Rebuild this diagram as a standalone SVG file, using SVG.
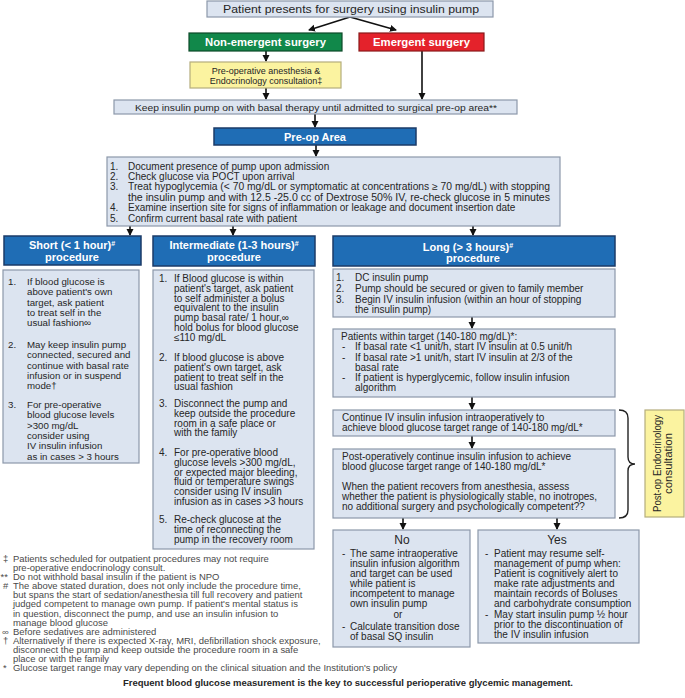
<svg xmlns="http://www.w3.org/2000/svg" width="685" height="698" viewBox="0 0 685 698">
<defs>
<marker id="ah" markerUnits="userSpaceOnUse" markerWidth="8" markerHeight="8" refX="6" refY="3.5" orient="auto">
<path d="M0,0 L7,3.5 L0,7 z" fill="#111"/>
</marker>
<style>
text{font-family:"Liberation Sans",Arial,sans-serif;fill:#262626}
.lb{fill:#dce4f0;stroke:#8c98aa;stroke-width:1.2}
.hd{fill:#1f6db5;stroke:#1b3b68;stroke-width:1.5}
.ye{fill:#fbf3a0;stroke:#b5ad7c;stroke-width:1.2}
.wh{fill:#fff;font-weight:bold;font-size:11px;text-anchor:middle}
.t{font-size:10px}
.ts{font-size:9.7px}
.tl{font-size:10px}
.c{text-anchor:middle}
.fn{font-size:8.6px;fill:#4a4a4a}
.ar{stroke:#111;stroke-width:1.6;fill:none;marker-end:url(#ah)}
</style>
</defs>
<rect width="685" height="698" fill="#fff"/>

<g id="connectors">
<path class="ar" d="M350,17 L309,30"/>
<path class="ar" d="M350,17 L396,30"/>
<path class="ar" d="M266,51 L266,61"/>
<path class="ar" d="M266,88 L266,99"/>
<path class="ar" d="M422,51 L422,99"/>
<path class="ar" d="M315,114 L315,127"/>
<path class="ar" d="M316,145 L316,156"/>
<path class="ar" d="M130,226 L130,235"/>
<path class="ar" d="M233,226 L233,235"/>
<path class="ar" d="M473,226 L473,235"/>
<path class="ar" d="M472,317 L472,328"/>
<path class="ar" d="M472,397 L472,409"/>
<path class="ar" d="M472,436 L472,448"/>
<path class="ar" d="M403,518 L403,529"/>
<path class="ar" d="M557,518 L557,529"/>
<path d="M619,410 Q628,410 628,418 L628,457 Q628,464 635,464 Q628,464 628,471 L628,510 Q628,518 619,518" fill="none" stroke="#222" stroke-width="1.4"/>
</g>

<g id="start">
<rect class="lb" x="207" y="1" width="286" height="16"/>
<text x="351" y="13" class="c" font-size="11px" textLength="256" lengthAdjust="spacingAndGlyphs">Patient presents for surgery using insulin pump</text>
</g>

<g id="non-emergent">
<rect x="189" y="33" width="153" height="18" fill="#11884a" stroke="#0c4a28" stroke-width="1.2"/>
<text x="265.5" y="46" class="wh" font-size="10.5px" textLength="121" lengthAdjust="spacingAndGlyphs">Non-emergent surgery</text>
</g>

<g id="emergent">
<rect x="359" y="33" width="125" height="18" fill="#e4222b" stroke="#8a1a1a" stroke-width="1.2"/>
<text x="421.5" y="46" class="wh" font-size="10.5px" textLength="97" lengthAdjust="spacingAndGlyphs">Emergent surgery</text>
</g>

<g id="consult">
<rect class="ye" x="190" y="62" width="151" height="26"/>
<text x="266" y="74" class="c" font-size="9px">Pre-operative anesthesia &amp;</text>
<text x="266" y="84" class="c" font-size="9px">Endocrinology consultation‡</text>
</g>

<g id="keep-pump">
<rect class="lb" x="114" y="100" width="403" height="14"/>
<text x="316" y="110.5" class="c" font-size="8.8px" textLength="362" lengthAdjust="spacingAndGlyphs">Keep insulin pump on with basal therapy until admitted to surgical pre-op area**</text>
</g>

<g id="preop-area">
<rect class="hd" x="214" y="128" width="202" height="17"/>
<text x="315" y="140.5" class="wh">Pre-op Area</text>
</g>

<g id="preop-list">
<rect class="lb" x="107" y="157" width="453" height="69"/>
<g class="tl">
<text x="110" y="169.5">1.</text><text x="128" y="169.5">Document presence of pump upon admission</text>
<text x="110" y="179.5">2.</text><text x="128" y="179.5">Check glucose via POCT upon arrival</text>
<text x="110" y="190">3.</text><text x="128" y="190" textLength="422" lengthAdjust="spacingAndGlyphs">Treat hypoglycemia (&lt; 70 mg/dL or symptomatic at concentrations ≥ 70 mg/dL) with stopping</text>
<text x="128" y="200.5" textLength="422" lengthAdjust="spacingAndGlyphs">the insulin pump and with 12.5 -25.0 cc of Dextrose 50%  IV, re-check glucose in 5 minutes</text>
<text x="110" y="211">4.</text><text x="128" y="211">Examine insertion site for signs of inflammation or leakage and document insertion date</text>
<text x="110" y="221.5">5.</text><text x="128" y="221.5">Confirm current basal rate with patient</text>
</g>
</g>

<g id="short">
<rect class="hd" x="4" y="236" width="137" height="29"/>
<text x="72" y="248.5" class="wh">Short (&lt; 1 hour)<tspan font-size="7px" dy="-3">#</tspan></text>
<text x="72" y="261" class="wh">procedure</text>
<rect class="lb" x="3" y="270" width="136" height="193"/>
<g class="ts">
<text x="8" y="285">1.</text>
<text x="27" y="285">If blood glucose is</text>
<text x="27" y="295.3">above patient's own</text>
<text x="27" y="305.6">target, ask patient</text>
<text x="27" y="315.9">to treat self in the</text>
<text x="27" y="326.2">usual fashion∞</text>
<text x="8" y="348">2.</text>
<text x="27" y="348">May keep insulin pump</text>
<text x="27" y="358.3">connected, secured and</text>
<text x="27" y="368.6">continue with basal rate</text>
<text x="27" y="378.9">infusion or in suspend</text>
<text x="27" y="389.2">mode†</text>
<text x="8" y="408">3.</text>
<text x="27" y="408">For pre-operative</text>
<text x="27" y="418.3">blood glucose levels</text>
<text x="27" y="428.6">&gt;300 mg/dL</text>
<text x="27" y="438.9">consider using</text>
<text x="27" y="449.2">IV insulin infusion</text>
<text x="27" y="459.5">as in cases &gt; 3 hours</text>
</g>
</g>

<g id="intermediate">
<rect class="hd" x="153" y="236" width="162" height="30"/>
<text x="234" y="248.5" class="wh">Intermediate (1-3 hours)<tspan font-size="7px" dy="-3">#</tspan></text>
<text x="234" y="261" class="wh">procedure</text>
<rect class="lb" x="153" y="270" width="161" height="279"/>
<g class="t">
<text x="159" y="282">1.</text>
<text x="174" y="282">If Blood glucose is within</text>
<text x="174" y="291.8">patient's target, ask patient</text>
<text x="174" y="301.6">to self administer a bolus</text>
<text x="174" y="311.4">equivalent to the insulin</text>
<text x="174" y="321.2">pump basal rate/ 1 hour,∞</text>
<text x="174" y="331">hold bolus for blood glucose</text>
<text x="174" y="340.8">≤110 mg/dL</text>
<text x="159" y="361">2.</text>
<text x="174" y="361">If blood glucose is above</text>
<text x="174" y="370.8">patient's own target, ask</text>
<text x="174" y="380.6">patient to treat self in the</text>
<text x="174" y="390.4">usual fashion</text>
<text x="159" y="407">3.</text>
<text x="174" y="407">Disconnect the pump and</text>
<text x="174" y="416.8">keep outside the procedure</text>
<text x="174" y="426.6">room in a safe place or</text>
<text x="174" y="436.4">with the family</text>
<text x="159" y="456">4.</text>
<text x="174" y="456">For pre-operative blood</text>
<text x="174" y="465.8">glucose levels &gt;300 mg/dL,</text>
<text x="174" y="475.6">or expected major bleeding,</text>
<text x="174" y="485.4">fluid or temperature swings</text>
<text x="174" y="495.2">consider using IV insulin</text>
<text x="174" y="505">infusion as in cases &gt;3 hours</text>
<text x="159" y="523">5.</text>
<text x="174" y="523">Re-check glucose at the</text>
<text x="174" y="532.8">time of reconnecting the</text>
<text x="174" y="542.6">pump in the recovery room</text>
</g>
</g>

<g id="long">
<rect class="hd" x="333" y="236" width="282" height="30"/>
<text x="468" y="251" class="wh">Long (&gt; 3 hours)<tspan font-size="7px" dy="-3">#</tspan></text>
<text x="473" y="262" class="wh">procedure</text>
</g>

<g id="long-steps">
<rect class="lb" x="333" y="269" width="282" height="48"/>
<g class="t">
<text x="336" y="281">1.</text><text x="355" y="281">DC insulin pump</text>
<text x="336" y="292">2.</text><text x="355" y="292">Pump should be secured or given to family member</text>
<text x="336" y="302.5">3.</text><text x="355" y="302.5">Begin IV insulin infusion (within an hour of stopping</text>
<text x="355" y="313">the insulin pump)</text>
</g>
</g>

<g id="within-target">
<rect class="lb" x="333" y="329" width="282" height="68"/>
<g class="t">
<text x="341" y="340">Patients within target (140-180 mg/dL)*:</text>
<text x="342" y="350.2">-</text><text x="355" y="350.2">If basal rate &lt;1 unit/h, start IV insulin at 0.5 unit/h</text>
<text x="342" y="360.5">-</text><text x="355" y="360.5">If basal rate &gt;1 unit/h, start IV insulin at 2/3 of the</text>
<text x="355" y="370.7">basal rate</text>
<text x="342" y="381">-</text><text x="355" y="381">If patient is hyperglycemic, follow insulin infusion</text>
<text x="355" y="391.2">algorithm</text>
</g>
</g>

<g id="intraop">
<rect class="lb" x="333" y="410" width="282" height="26"/>
<text x="342" y="420.5" class="t">Continue IV insulin infusion intraoperatively to</text>
<text x="342" y="431" class="t">achieve blood glucose target range of 140-180 mg/dL*</text>
</g>

<g id="postop">
<rect class="lb" x="333" y="449" width="282" height="69"/>
<g class="t">
<text x="342" y="460">Post-operatively continue insulin infusion to achieve</text>
<text x="342" y="470">blood glucose target range of 140-180 mg/dL*</text>
<text x="342" y="490">When the patient recovers from anesthesia, assess</text>
<text x="342" y="500">whether the patient is physiologically stable, no inotropes,</text>
<text x="342" y="510">no additional surgery and psychologically competent??</text>
</g>
</g>

<g id="postop-consult">
<rect class="ye" x="645" y="410" width="39" height="107"/>
<text transform="translate(660.5,463.5) rotate(-90)" class="c" font-size="10px" textLength="97" lengthAdjust="spacingAndGlyphs">Post-op Endocrinology</text>
<text transform="translate(671.5,463.5) rotate(-90)" class="c" font-size="10px" textLength="61" lengthAdjust="spacingAndGlyphs">consultation</text>
</g>

<g id="no">
<rect class="lb" x="333" y="530" width="137" height="117"/>
<text x="402" y="544" class="c" font-size="12px">No</text>
<g class="t">
<text x="342" y="557">-</text><text x="350" y="557">The same intraoperative</text>
<text x="350" y="567">insulin infusion algorithm</text>
<text x="350" y="577">and target can be used</text>
<text x="350" y="587">while patient is</text>
<text x="350" y="597">incompetent to manage</text>
<text x="350" y="607">own insulin pump</text>
<text x="398" y="617.5" class="c">or</text>
<text x="342" y="630">-</text><text x="350" y="630">Calculate transition dose</text>
<text x="350" y="640">of basal SQ insulin</text>
</g>
</g>

<g id="yes">
<rect class="lb" x="478" y="530" width="161" height="113"/>
<text x="557" y="544" class="c" font-size="12px">Yes</text>
<g class="t">
<text x="485" y="557">-</text><text x="494" y="557">Patient may resume self-</text>
<text x="494" y="567">management of pump when:</text>
<text x="494" y="577">Patient is cognitively alert to</text>
<text x="494" y="587">make rate adjustments and</text>
<text x="494" y="597">maintain records of Boluses</text>
<text x="494" y="607">and carbohydrate consumption</text>
<text x="485" y="617.5">-</text><text x="494" y="617.5">May start insulin pump ½ hour</text>
<text x="494" y="627.5">prior to the discontinuation of</text>
<text x="494" y="637.5">the IV insulin infusion</text>
</g>
</g>

<g id="footnotes" transform="matrix(1.1 0 0 1 0 0)">
<text x="2.7" y="562" class="fn">‡</text><text x="11.8" y="562" class="fn">Patients scheduled for outpatient procedures may not require</text>
<text x="11.8" y="571.1" class="fn">pre-operative endocrinology consult.</text>
<text x="0.5" y="580.2" class="fn">**</text><text x="11.8" y="580.2" class="fn">Do not withhold basal insulin if the patient is NPO</text>
<text x="2.7" y="589.3" class="fn">#</text><text x="11.8" y="589.3" class="fn">The above stated duration, does not only include the procedure time,</text>
<text x="11.8" y="598.4" class="fn">but spans the start of sedation/anesthesia till full recovery and patient</text>
<text x="11.8" y="607.5" class="fn">judged competent to manage own pump. If patient's mental status is</text>
<text x="11.8" y="616.6" class="fn">in question, disconnect the pump, and use an insulin infusion to</text>
<text x="11.8" y="625.7" class="fn">manage blood glucose</text>
<text x="1.8" y="634.8" class="fn">∞</text><text x="11.8" y="634.8" class="fn">Before sedatives are administered</text>
<text x="2.7" y="643.9" class="fn">†</text><text x="11.8" y="643.9" class="fn">Alternatively if there is expected  X-ray, MRI, defibrillation shock exposure,</text>
<text x="11.8" y="653" class="fn">disconnect the pump and keep outside the procedure room in a safe</text>
<text x="11.8" y="662.1" class="fn">place or with the family</text>
<text x="2.7" y="671.2" class="fn">*</text><text x="11.8" y="671.2" class="fn">Glucose target range may vary depending on the clinical situation and the Institution's policy</text>
</g>

<g id="key-message">
<text x="348" y="686" class="c" font-size="9px" font-weight="bold" fill="#111" textLength="450" lengthAdjust="spacingAndGlyphs">Frequent blood glucose measurement is the key to successful perioperative glycemic management.</text>
</g>
</svg>
